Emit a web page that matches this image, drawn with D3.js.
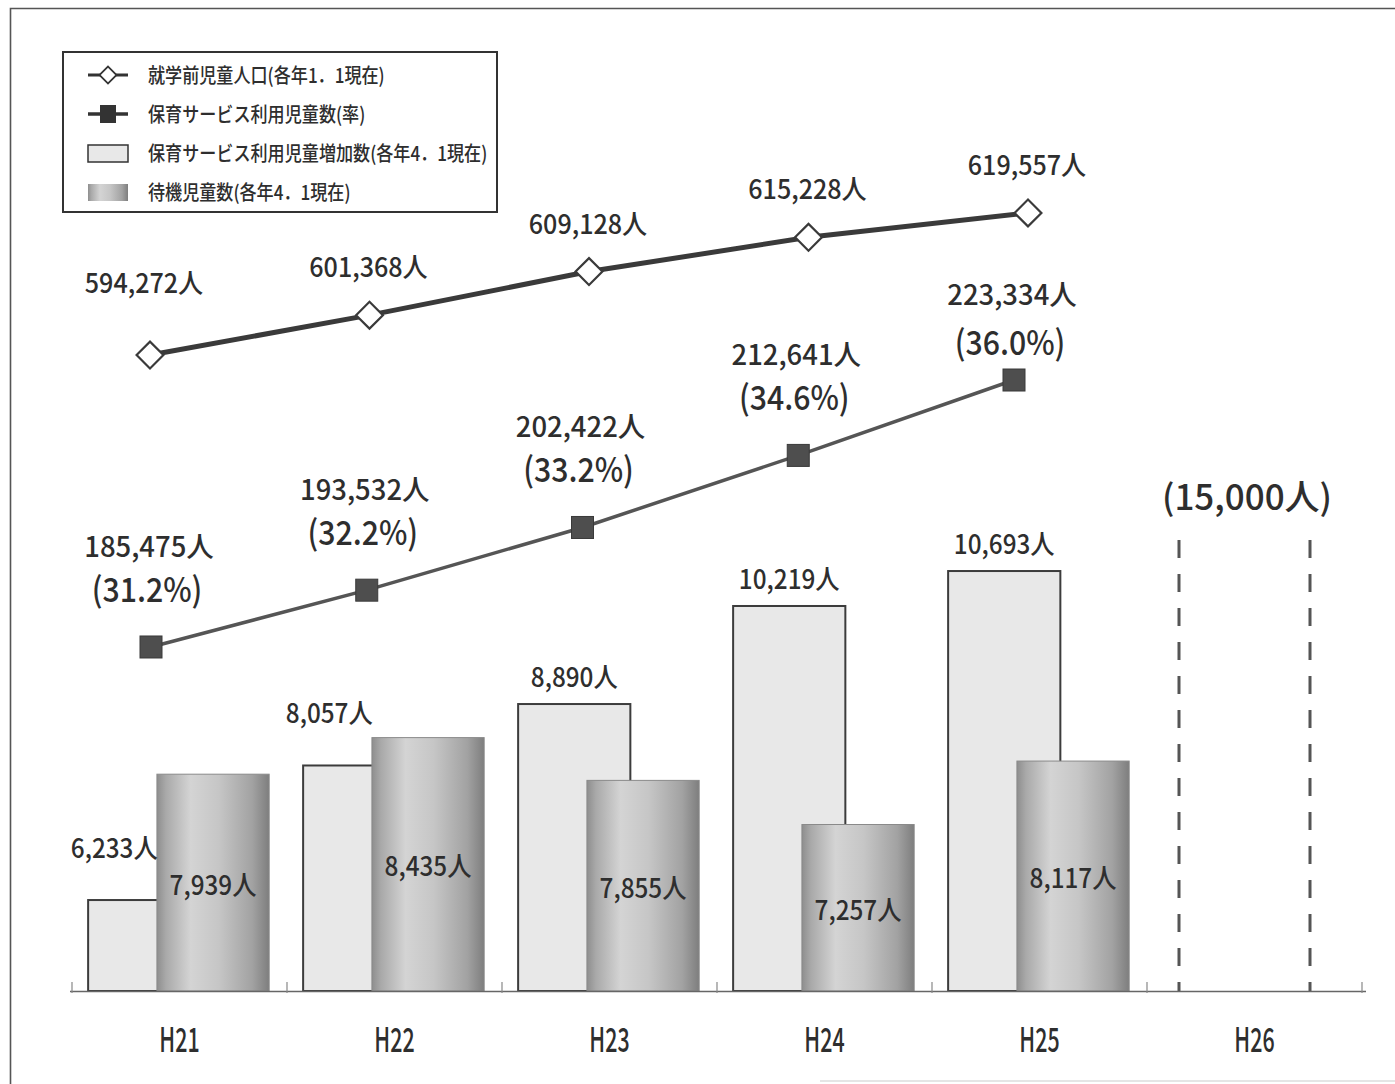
<!DOCTYPE html>
<html>
<head>
<meta charset="utf-8">
<script src="https://cdn.jsdelivr.net/npm/d3@7"></script>
<style>
  body { margin: 0; background: #fff; }
  svg text { font-family: "Noto Sans CJK JP", "Noto Sans", sans-serif; fill: #2e2e2e; font-weight: 500; }
</style>
</head>
<body>
<div id="graf"></div>
<script>
// データ
const years = ['H21', 'H22', 'H23', 'H24', 'H25', 'H26']
const population = [594272, 601368, 609128, 615228, 619557]
const users = [185475, 193532, 202422, 212641, 223334]
const userRate = [31.2, 32.2, 33.2, 34.6, 36.0]
const increase = [6233, 8057, 8890, 10219, 10693]
const waiting = [7939, 8435, 7855, 7257, 8117]
const target = 15000
const legendLabels = [
  '就学前児童人口(各年1．1現在)',
  '保育サービス利用児童数(率)',
  '保育サービス利用児童増加数(各年4．1現在)',
  '待機児童数(各年4．1現在)',
]

const W = 1395, H = 1084
const base = 991

const svg = d3.select('#graf').append('svg')
  .attr('width', W).attr('height', H)

const defs = svg.append('defs')
const grad = defs.append('linearGradient').attr('id', 'cyl')
  .attr('x1', 0).attr('x2', 1).attr('y1', 0).attr('y2', 0)
grad.selectAll('stop')
  .data([[0, '#8e8e8e'], [0.08, '#a9a9a9'], [0.3, '#d4d4d4'], [0.55, '#c6c6c6'], [0.85, '#a2a2a2'], [1, '#7e7e7e']])
  .enter().append('stop')
  .attr('offset', d => d[0]).attr('stop-color', d => d[1])

const fmt = d3.format(',')

// 枠
svg.append('path')
  .attr('d', `M10.5,${H} V8.5 H${W}`)
  .attr('fill', 'none').attr('stroke', '#555').attr('stroke-width', 1.6)
svg.append('line')
  .attr('x1', 820).attr('x2', W).attr('y1', 1081).attr('y2', 1081)
  .attr('stroke', '#ddd').attr('stroke-width', 1.5)

// スケール
const x = d3.scaleBand().domain(years).range([72, 1362])
const yBar = d3.scaleLinear().domain([5000, 15000]).range([base, 253.3])
const xPop = d3.scalePoint().domain(years.slice(0, 5)).range([150, 1028])
const xUse = d3.scalePoint().domain(years.slice(0, 5)).range([151, 1014])
const yPop = d3.scaleLinear().domain([590000, 620000]).range([379, 210.5])
const yUse = d3.scaleLinear().domain([180000, 230000]).range([685.6, 333])

const bw = x.bandwidth()
const lightX = c => x(c) + bw * 0.075
const darkX = c => x(c) + bw * 0.395
const barW = bw * 0.522

function txt(g, px, py, s, size, sx, anchor = 'middle', fill = '#2e2e2e') {
  return g.append('text')
    .attr('transform', `translate(${px},${py}) scale(${sx},1)`)
    .attr('text-anchor', anchor)
    .attr('font-size', size)
    .attr('fill', fill)
    .text(s)
}

const g = svg.append('g')

// 棒（増加数）
g.selectAll('.inc').data(increase).enter().append('rect')
  .attr('class', 'inc')
  .attr('x', (d, i) => lightX(years[i]))
  .attr('y', d => yBar(d))
  .attr('width', barW)
  .attr('height', d => base - yBar(d))
  .attr('fill', '#e8e8e8')
  .attr('stroke', '#3c3c3c').attr('stroke-width', 2)

// 棒（待機児童）
g.selectAll('.wait').data(waiting).enter().append('rect')
  .attr('class', 'wait')
  .attr('x', (d, i) => darkX(years[i]))
  .attr('y', d => yBar(d))
  .attr('width', barW)
  .attr('height', d => base - yBar(d))
  .attr('fill', 'url(#cyl)')
  .attr('stroke', '#8a8a8a').attr('stroke-width', 1)

// H26 目標（破線）
const tx = x('H26')
;[tx + 32, tx + 163].forEach(px => {
  g.append('line')
    .attr('x1', px).attr('x2', px).attr('y1', 540).attr('y2', base)
    .attr('stroke', '#555').attr('stroke-width', 3)
    .attr('stroke-dasharray', '18,16')
})
txt(g, tx + 100, 510, `(${fmt(target)}人)`, 35, 1.0, 'middle', '#555')

// 軸
const xAxis = g.append('g')
  .attr('transform', `translate(0,${base})`)
  .call(d3.axisBottom(x).tickSize(0).tickSizeOuter(0).tickPadding(61))
xAxis.select('.domain').attr('stroke', '#666').attr('stroke-width', 1.5)
  .attr('d', `M70,0.5H1366`)
xAxis.selectAll('text')
  .attr('font-size', 34)
  .attr('fill', '#2e2e2e')
  .attr('font-family', '"Noto Sans CJK JP", sans-serif')
  .attr('font-weight', 500)
  .attr('transform', 'scale(0.63,1)')
  .attr('dy', 0)
g.selectAll('.btick').data(years.concat(['end'])).enter().append('line')
  .attr('class', 'btick')
  .attr('x1', d => d === 'end' ? x.range()[1] : x(d))
  .attr('x2', d => d === 'end' ? x.range()[1] : x(d))
  .attr('y1', base - 9).attr('y2', base + 2)
  .attr('stroke', '#888').attr('stroke-width', 1.2)

// 折れ線（就学前児童人口）
const linePop = d3.line().x((d, i) => xPop(years[i])).y(d => yPop(d))
g.append('path').datum(population)
  .attr('d', linePop)
  .attr('fill', 'none').attr('stroke', '#3a3a3a').attr('stroke-width', 5)
g.selectAll('.dia').data(population).enter().append('rect')
  .attr('class', 'dia')
  .attr('x', -9.5).attr('y', -9.5).attr('width', 19).attr('height', 19)
  .attr('transform', (d, i) => `translate(${xPop(years[i])},${yPop(d)}) rotate(45)`)
  .attr('fill', '#fff').attr('stroke', '#3a3a3a').attr('stroke-width', 2.2)

// 折れ線（利用児童数）
const lineUse = d3.line().x((d, i) => xUse(years[i])).y(d => yUse(d))
g.append('path').datum(users)
  .attr('d', lineUse)
  .attr('fill', 'none').attr('stroke', '#555').attr('stroke-width', 3.5)
g.selectAll('.sq').data(users).enter().append('rect')
  .attr('class', 'sq')
  .attr('x', (d, i) => xUse(years[i]) - 11)
  .attr('y', d => yUse(d) - 11)
  .attr('width', 22).attr('height', 22)
  .attr('fill', '#4e4e4e').attr('stroke', '#3a3a3a').attr('stroke-width', 1)

// ラベル
population.forEach((d, i) => {
  const off = i === 0 ? 62 : 38
  txt(g, xPop(years[i]) - 6 + (i === 0 ? 0 : 5), yPop(d) - off, fmt(d) + '人', 27, 0.93)
})
users.forEach((d, i) => {
  const px = xUse(years[i])
  const pyPct = i === 4 ? yUse(d) - 25 : yUse(d) - 45
  txt(g, px - 2, pyPct - (i === 4 ? 50 : 45), fmt(d) + '人', 28, 0.98)
  txt(g, px - 4, pyPct, `(${userRate[i].toFixed(1)}%)`, 34, 0.89)
})
increase.forEach((d, i) => {
  const c = years[i]
  if (waiting[i] > d) {
    txt(g, lightX(c) + barW / 2 - 30, yBar(d) - 42, fmt(d) + '人', 27, 0.9)
  } else {
    txt(g, lightX(c) + barW / 2, yBar(d) - 17, fmt(d) + '人', 27, 0.9)
  }
})
waiting.forEach((d, i) => {
  const c = years[i]
  txt(g, darkX(c) + barW / 2, (yBar(d) + base) / 2 + 12, fmt(d) + '人', 27, 0.9, 'middle', '#444')
})

// 凡例
const lg = svg.append('g')
lg.append('rect')
  .attr('x', 63).attr('y', 52).attr('width', 434).attr('height', 160)
  .attr('fill', '#fff').attr('stroke', '#333').attr('stroke-width', 2)
const ly = d => 75 + d * 39
legendLabels.forEach((s, i) => {
  txt(lg, 148, ly(i) + 8, s, 20, 0.855, 'start', '#2e2e2e')
})
lg.append('line').attr('x1', 88).attr('x2', 128).attr('y1', ly(0)).attr('y2', ly(0))
  .attr('stroke', '#333').attr('stroke-width', 3)
lg.append('rect').attr('x', -6).attr('y', -6).attr('width', 12).attr('height', 12)
  .attr('transform', `translate(108,${ly(0)}) rotate(45)`)
  .attr('fill', '#fff').attr('stroke', '#333').attr('stroke-width', 1.8)
lg.append('line').attr('x1', 88).attr('x2', 128).attr('y1', ly(1)).attr('y2', ly(1))
  .attr('stroke', '#333').attr('stroke-width', 3.5)
lg.append('rect').attr('x', 100).attr('y', ly(1) - 9).attr('width', 16).attr('height', 18)
  .attr('fill', '#333')
lg.append('rect').attr('x', 88).attr('y', ly(2) - 8).attr('width', 40).attr('height', 17)
  .attr('fill', '#e8e8e8').attr('stroke', '#333').attr('stroke-width', 1.5)
lg.append('rect').attr('x', 88).attr('y', ly(3) - 8).attr('width', 40).attr('height', 17)
  .attr('fill', 'url(#cyl)')
</script>
</body>
</html>
